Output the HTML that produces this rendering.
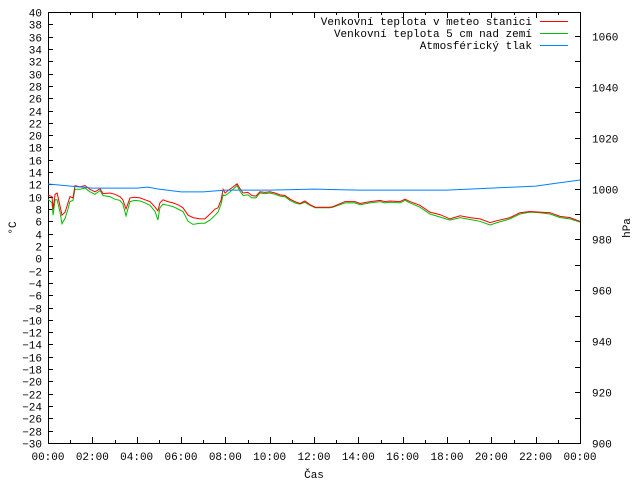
<!DOCTYPE html>
<html><head><meta charset="utf-8"><style>
html,body{margin:0;padding:0;background:#fff}
svg{display:block}
text{font-family:"Liberation Mono","DejaVu Sans Mono",monospace;font-size:11px;fill:#000}
</style></head><body>
<svg id="c" width="640" height="480"></svg>
<script>
const hours=[0,0.18,0.23,0.32,0.41,0.54,0.63,0.77,0.90,0.99,1.13,1.22,1.44,1.67,1.89,2.12,2.35,2.48,2.80,3.02,3.25,3.38,3.52,3.70,3.92,4.15,4.38,4.60,4.83,4.96,5.05,5.19,5.41,5.64,5.86,6.09,6.32,6.54,6.86,7.08,7.31,7.54,7.67,7.81,7.90,7.99,8.12,8.35,8.53,8.66,8.80,9.02,9.20,9.38,9.56,9.79,10.01,10.24,10.47,10.69,10.92,11.14,11.37,11.59,11.82,12.05,12.27,12.72,12.86,13.40,13.85,14.08,14.53,14.98,15.20,15.43,15.88,16.11,16.33,16.78,17.23,17.68,18.13,18.59,19.04,19.49,19.94,20.26,20.84,21.29,21.74,22.20,22.65,23.10,23.55,24];
const tempStation=[10.3,10,8,10.4,10.6,8.5,7.0,7.5,9,10,9.8,11.8,11.6,11.8,11.2,10.8,11.3,10.5,10.6,10.4,10,9.5,8,9.8,9.9,9.8,9.5,9.2,8.3,7.7,9,9.5,9.2,9,8.7,8.2,7,6.6,6.4,6.4,7.2,8,8.2,9.5,11.2,10.6,11,11.6,12.1,11.3,10.6,10.7,10.2,10.1,10.8,10.7,10.8,10.6,10.3,10.2,9.6,9.2,8.9,9.3,8.7,8.3,8.3,8.3,8.4,9.2,9.2,8.9,9.2,9.4,9.2,9.3,9.2,9.6,9.2,8.6,7.5,7.1,6.4,6.9,6.6,6.4,5.8,6.1,6.6,7.4,7.6,7.5,7.4,6.8,6.6,6.0];
const tempGround=[9.6,9.0,7.0,9.5,9.5,7.5,5.6,6.5,8.0,9.2,9.4,11.2,11.2,11.4,10.8,10.4,11.0,10.2,10.0,9.6,9.4,8.8,6.9,9.2,9.4,9.3,9.0,8.6,7.6,6.2,8.2,8.8,8.6,8.4,8.0,7.6,6.0,5.5,5.7,5.7,6.2,7.0,7.5,8.8,10.3,10.2,10.5,11.2,11.8,10.9,10.2,10.3,9.8,9.8,10.6,10.5,10.6,10.4,10.1,10.0,9.4,9.0,8.8,9.1,8.6,8.2,8.2,8.2,8.3,9.0,9.0,8.7,9.0,9.2,9.0,9.1,9.0,9.4,9.0,8.3,7.2,6.7,6.2,6.6,6.3,6.0,5.4,5.8,6.4,7.2,7.5,7.4,7.2,6.6,6.4,5.9];
const pressHours=[0,2,4,4.5,5,6,7,8,9,10,12,14,16,18,20,21,22,23,24];
const pressure=[1001.8,1000.2,1000.2,1000.6,999.8,998.7,998.7,999.4,999.4,999.4,999.8,999.4,999.4,999.4,1000.2,1000.6,1001.0,1002.2,1003.4];
const xTickLabels=["00:00","02:00","04:00","06:00","08:00","10:00","12:00","14:00","16:00","18:00","20:00","22:00","00:00"];
const seriesNames=["Venkovní teplota v meteo stanici","Venkovní teplota 5 cm nad zemí","Atmosférický tlak"];

const L=48,R=580,T=12,B=443;
const xs=h=>L+(R-L)*h/24;
const yT=t=>T+(B-T)*(40-t)/70;
const yP=p=>B-(p-900)*2.544;
const svg=document.getElementById('c');
const NS='http://www.w3.org/2000/svg';
function mk(tag,attrs,parent){const e=document.createElementNS(NS,tag);for(const k in attrs)e.setAttribute(k,attrs[k]);(parent||svg).appendChild(e);return e;}

const axes=mk('g',{});


const fr=mk('rect',{x:L+0.5,y:T+0.5,width:R-L,height:B-T,fill:'none',stroke:'#000','stroke-width':1},axes);


// left ticks
for(let t=-30;t<=40;t+=2){
  const y=Math.round(yT(t))+0.5;
  mk('line',{x1:L,x2:L+5,y1:y,y2:y,stroke:'#000'},axes);
  const tx=mk('text',{x:L-6,y:y+4,'text-anchor':'end'},axes);
  tx.textContent=String(t).replace('-','\u2212');
  
  
}
// right ticks
for(let p=900;p<=1060;p+=10){
  const y=Math.round(yP(p))+0.5;
  mk('line',{x1:R-5,x2:R,y1:y,y2:y,stroke:'#000'},axes);
  if(p%20===0){
    const tx=mk('text',{x:R+12,y:y+4},axes);
    tx.textContent=p;
    
    
  }
}
// x ticks
for(let h=0;h<=24;h++){
  const x=Math.round(xs(h))+0.5;const len=h%2===0?6:3;
  mk('line',{x1:x,x2:x,y1:B,y2:B-len,stroke:'#000'},axes);
  mk('line',{x1:x,x2:x,y1:T,y2:T+len,stroke:'#000'},axes);
}
xTickLabels.forEach((s,i)=>{
  const tx=mk('text',{x:xs(i*2),y:B+17,'text-anchor':'middle'},axes);
  tx.textContent=s;
  
  
});
const xt=mk('text',{x:314,y:478,'text-anchor':'middle'});xt.textContent='Čas';


const yt=mk('text',{x:16,y:228,'text-anchor':'middle',transform:'rotate(-90 16 228)'});yt.textContent='°C';


const y2t=mk('text',{x:630,y:228,'text-anchor':'middle',transform:'rotate(-90 630 228)'});y2t.textContent='hPa';



function line(xv,yv,fx,fy,color,name){
  const d=xv.map((v,i)=>(i?'L':'M')+fx(v).toFixed(1)+' '+fy(yv[i]).toFixed(1)).join(' ');
  const p=mk('path',{d:d,fill:'none',stroke:color,'stroke-width':1});
  
  
}
line(hours,tempGround,xs,yT,'#00c000','series-ground-temp');
line(hours,tempStation,xs,yT,'#ff0000','series-station-temp');
line(pressHours,pressure,xs,yP,'#0080ff','series-pressure');

// legend
const colors=['#ff0000','#00c000','#0080ff'];
seriesNames.forEach((n,i)=>{
  const y=21+i*12;
  const g=mk('g',{});
  
  
  const tx=mk('text',{x:532,y:y+4,'text-anchor':'end'},g);tx.textContent=n;
  mk('line',{x1:540,x2:568,y1:y+0.5,y2:y+0.5,stroke:colors[i]},g);
});
</script>
</body></html>
